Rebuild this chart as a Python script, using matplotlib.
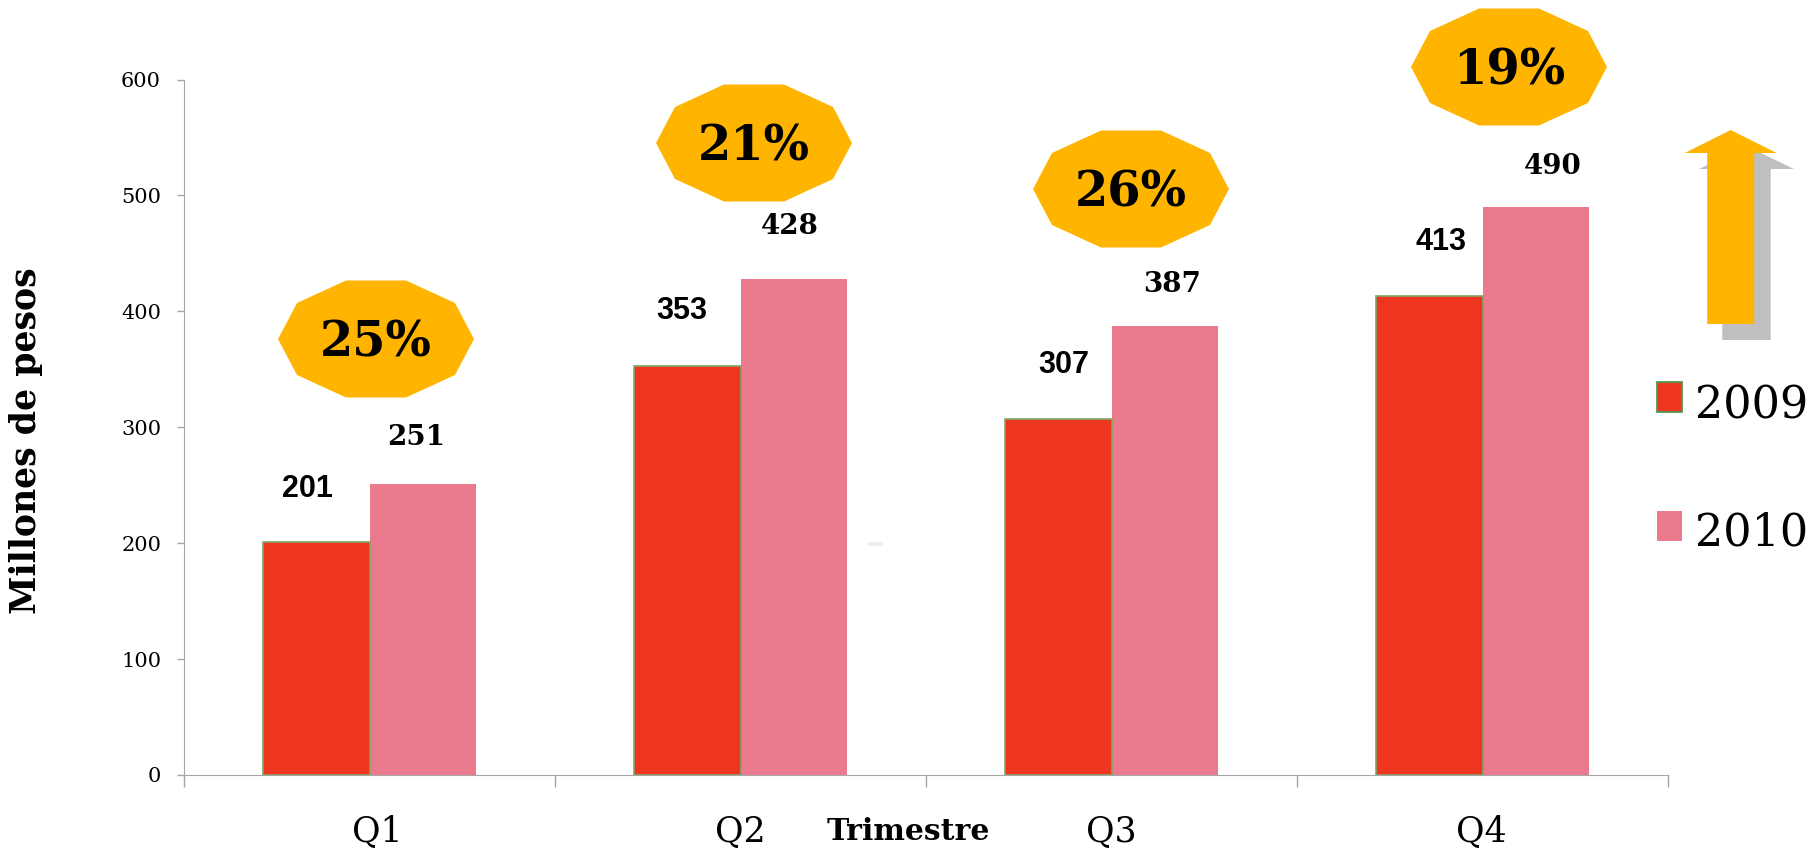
import matplotlib
matplotlib.use("Agg")
import matplotlib.pyplot as plt
from matplotlib.patches import Polygon, Rectangle
import numpy as np

quarters = ["Q1", "Q2", "Q3", "Q4"]
values_2009 = [201, 353, 307, 413]
values_2010 = [251, 428, 387, 490]
growth = ["25%", "21%", "26%", "19%"]
y_ticks = [0, 100, 200, 300, 400, 500, 600]

W, H = 1819, 850
RED = "#EE3520"
PINK = "#EC7A8F"
ORANGE = "#FFB500"
GREY = "#BFBFBF"
SERIF = ["DejaVu Serif"]
NARROW = ["Liberation Sans Narrow", "Liberation Sans"]

fig = plt.figure(figsize=(W / 100, H / 100), dpi=100)
ax = fig.add_axes([184 / W, 1 - 775 / H, (1668 - 184) / W, (775 - 79.5) / H])

# bars
x = np.arange(len(quarters)) + 0.5
bar_w = 0.288
ax.bar(x - bar_w / 2, values_2009, bar_w, color=RED, edgecolor="#7FA765", linewidth=1.2, zorder=3)
ax.bar(x + bar_w / 2, values_2010, bar_w, color=PINK, linewidth=0, zorder=2)

ax.set_xlim(0, 4)
ax.set_ylim(0, 600)
ax.set_xticks(range(5))
ax.set_xticklabels([])
ax.set_yticks(y_ticks)
ax.set_yticklabels(y_ticks, fontfamily=SERIF, fontsize=15)
ax.tick_params(axis="x", length=8.5, width=1, color="#A6A6A6")
ax.tick_params(axis="y", length=5, width=1, color="#A6A6A6", pad=11.5)
for s in ["top", "right"]:
    ax.spines[s].set_visible(False)
for s in ["left", "bottom"]:
    ax.spines[s].set_color("#A6A6A6")

# overlay in image pixels for the slide shapes and loose labels
ov = fig.add_axes([0, 0, 1, 1], zorder=5)
ov.set_xlim(0, W)
ov.set_ylim(H, 0)
ov.axis("off")

# decagons with the percentages
bubble_x = [376, 754, 1131, 1509]
bubble_y = [339, 143, 189, 67]
deca_x = np.array([-98, -79, -30, 30, 79, 98, 79, 30, -30, -79])
deca_y = np.array([0, -36, -58.5, -58.5, -36, 0, 36, 58.5, 58.5, 36])
for bx, by, g in zip(bubble_x, bubble_y, growth):
    ov.add_patch(Polygon(np.column_stack([bx + deca_x, by + deca_y]), color=ORANGE, lw=0))
    ov.text(bx, by + 4, g, family=SERIF, weight="bold", fontsize=34.5, ha="center", va="center")

# value labels
label_2009_x = [307, 682, 1064, 1441]
label_2009_y = [489, 311, 365, 242]
label_2010_x = [416, 790, 1172, 1553]
label_2010_y = [437, 226, 284, 166]
for px, py, v in zip(label_2009_x, label_2009_y, values_2009):
    ov.text(px, py, str(v), family=NARROW, weight="bold", fontsize=22, ha="center", va="center")
for px, py, v in zip(label_2010_x, label_2010_y, values_2010):
    ov.text(px, py, str(v), family=SERIF, weight="bold", fontsize=20, ha="center", va="center")

# category labels sit off centre in the original
q_x = [377, 740, 1111, 1481]
for px, q in zip(q_x, quarters):
    ov.text(px, 832, q, family=SERIF, fontsize=25, ha="center", va="center")

ov.text(908, 831, "Trimestre", family=SERIF, weight="bold", fontsize=21.5, ha="center", va="center")
ov.text(26, 441, "Millones de pesos", family=SERIF, weight="bold", fontsize=25,
        rotation=90, ha="center", va="center")

# arrow with its shadow
arrow_x = np.array([0, 46, 23.5, 23.5, -23.5, -23.5, -46])
arrow_y = np.array([0, 23, 23, 194, 194, 23, 23])
ov.add_patch(Polygon(np.column_stack([1746.5 + arrow_x * 1.03, 146 + arrow_y * 1.0]), color=GREY, lw=0))
ov.add_patch(Polygon(np.column_stack([1730.7 + arrow_x, 130 + arrow_y]), color=ORANGE, lw=0))

# hand made legend
ov.add_patch(Rectangle((1657, 382), 25, 30, facecolor=RED, edgecolor="#4E9A4E", lw=1.3))
ov.add_patch(Rectangle((1657, 511), 25, 30, facecolor=PINK, lw=0))
ov.text(1695, 418, "2009", family=SERIF, fontsize=32, ha="left", va="baseline")
ov.text(1695, 546, "2010", family=SERIF, fontsize=32, ha="left", va="baseline")

# small smudge left in the slide
ov.add_patch(Rectangle((868, 542), 15, 4, facecolor="#EEEEEE", lw=0))

fig.savefig("out.png", dpi=100)
